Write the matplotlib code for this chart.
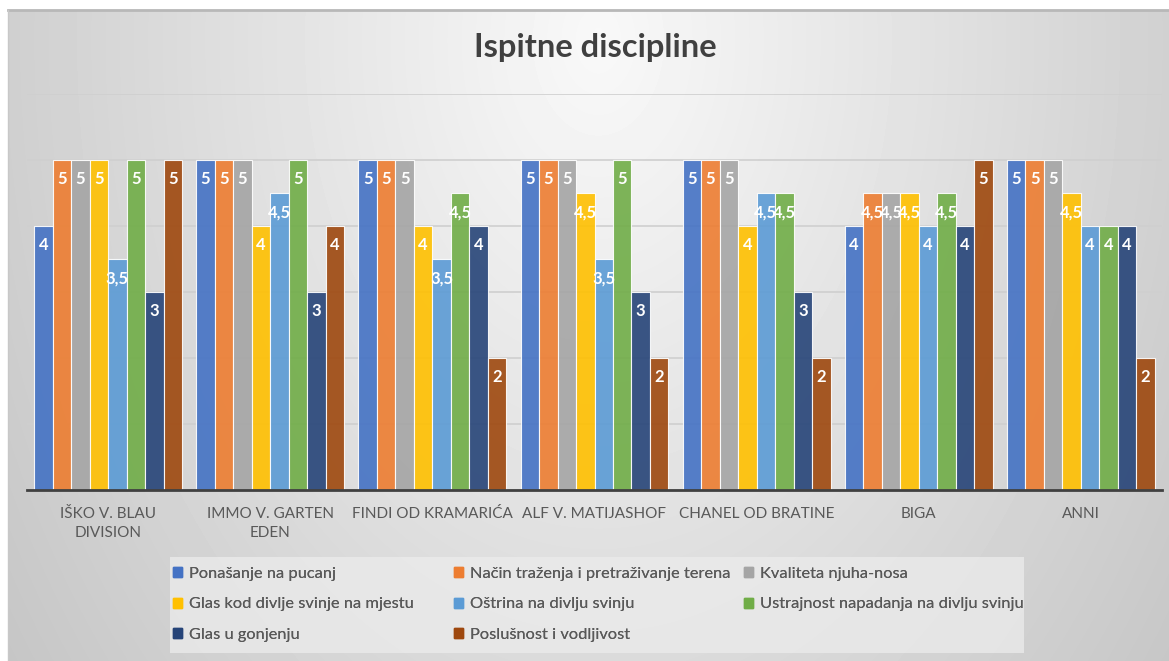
import matplotlib
matplotlib.use("Agg")
import matplotlib.pyplot as plt
import matplotlib.patches as mpatches
import numpy as np

plt.rcParams['font.family'] = ['Lato', 'DejaVu Sans']

# --- data ---
dogs = ["IŠKO V. BLAU\nDIVISION", "IMMO V. GARTEN\nEDEN", "FINDI OD KRAMARIĆA",
        "ALF V. MATIJASHOF", "CHANEL OD BRATINE", "BIGA", "ANNI"]
series_names = ["Ponašanje na pucanj",
                "Način traženja i pretraživanje terena",
                "Kvaliteta njuha-nosa",
                "Glas kod divlje svinje na mjestu",
                "Oštrina na divlju svinju",
                "Ustrajnost napadanja na divlju svinju",
                "Glas u gonjenju",
                "Poslušnost i vodljivost"]
ponasanje = [4, 5, 5, 5, 5, 4, 5]
nacin = [5, 5, 5, 5, 5, 4.5, 5]
kvaliteta = [5, 5, 5, 5, 5, 4.5, 5]
glas_mjesto = [5, 4, 4, 4.5, 4, 4.5, 4.5]
ostrina = [3.5, 4.5, 3.5, 3.5, 4.5, 4, 4]
ustrajnost = [5, 5, 4.5, 5, 4.5, 4.5, 4]
glas_gonjenje = [3, 3, 4, 3, 3, 4, 4]
poslusnost = [5, 4, 2, 2, 2, 5, 2]
values = [ponasanje, nacin, kvaliteta, glas_mjesto, ostrina, ustrajnost,
          glas_gonjenje, poslusnost]
colors = ["#4472C4", "#ED7D31", "#A5A5A5", "#FFC000",
          "#5B9BD5", "#70AD47", "#264478", "#9E480E"]

W, H = 1169, 661
fig = plt.figure(figsize=(W / 100, H / 100), dpi=100)
fig.patch.set_facecolor("white")

# --- background gradient panel ---
bg = fig.add_axes([8 / W, 0, 1 - 8 / W, (H - 10) / H])
yy, xx = np.mgrid[0:H - 10, 0:W - 8]
r = np.sqrt(((xx - 590) / 620.0) ** 2 + ((yy - 30) / 900.0) ** 2)
shade = np.clip(0.975 - 0.17 * r, 0.75, 1.0)
bg.imshow(shade, cmap="gray", vmin=0, vmax=1, aspect="auto",
          extent=(0, 1, 0, 1), origin="upper", interpolation="bilinear")
bg.set_xlim(0, 1)
bg.set_ylim(0, 1)
bg.axis("off")
bg.plot([0, 1], [1, 1], color="#b8b8b8", lw=2, transform=bg.transAxes,
        clip_on=False)
bg.plot([0, 0], [0, 1], color="#c8c8c8", lw=1, transform=bg.transAxes,
        clip_on=False)

# --- main axes ---
ax = fig.add_axes([27 / W, (H - 490) / H, 1135 / W, 396 / H])
ax.set_facecolor("none")
x = np.arange(len(dogs))
n = len(values)
bw = 0.114
for i, (vals, c) in enumerate(zip(values, colors)):
    pos = x + (i - (n - 1) / 2) * bw
    bars = ax.bar(pos, vals, width=bw, color=c, alpha=0.9,
                  edgecolor="white", linewidth=0.8, zorder=3)
    for b, v in zip(bars, vals):
        lbl = f"{v:g}".replace(".", ",")
        ax.annotate(lbl, (b.get_x() + b.get_width() / 2, v),
                    xytext=(0, -14), textcoords="offset points",
                    ha="center", va="center", color="white",
                    fontsize=12, fontweight="bold", zorder=4)

ax.set_xlim(-0.5, len(dogs) - 0.5)
ax.set_ylim(0, 6)
ax.set_yticks(np.arange(0, 7, 1))
ax.yaxis.grid(True, color="#cfcfcf", linewidth=1.2, zorder=0)
ax.tick_params(axis="y", left=False, labelleft=False)
ax.set_xticks(x)
ax.set_xticklabels(dogs, fontsize=11, color="#595959", linespacing=1.5)
ax.tick_params(axis="x", length=0, pad=12)
for s in ["top", "right", "left"]:
    ax.spines[s].set_visible(False)
ax.spines["bottom"].set_color("#404040")
ax.spines["bottom"].set_linewidth(2)
ax.spines["bottom"].set_zorder(5)

fig.text(595 / W, 1 - 48 / H, "Ispitne discipline", ha="center", va="center",
         fontsize=23.5, fontweight="bold", color="#404040")

# --- legend box, three columns like Excel ---
box = mpatches.Rectangle((170 / W, 1 - 653 / H), (1024 - 170) / W, 96 / H,
                         transform=fig.transFigure, facecolor="#ececec",
                         edgecolor="none", alpha=0.75, zorder=1)
fig.patches.append(box)
col_x = [173, 454, 744]
for col, start in enumerate(col_x):
    idx = [k for k in range(col, n, 3)]
    handles = [mpatches.Patch(color=colors[k]) for k in idx]
    labels = [series_names[k] for k in idx]
    leg = fig.legend(handles, labels, loc="upper left",
                     bbox_to_anchor=(start / W, 1 - 567 / H),
                     frameon=False, fontsize=11.8, labelcolor="#595959",
                     handlelength=0.55, handleheight=0.55, handletextpad=0.4,
                     labelspacing=1.0, borderpad=0, borderaxespad=0)
    fig.add_artist(leg)

fig.savefig("out.png", dpi=100, facecolor=fig.get_facecolor())
